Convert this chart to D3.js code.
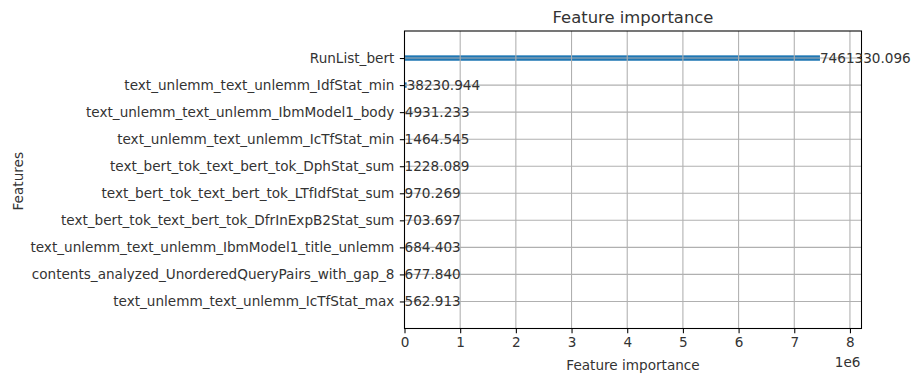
<!DOCTYPE html>
<html>
<head>
<meta charset="utf-8">
<script src="https://cdn.jsdelivr.net/npm/d3@7"></script>
<style>
  html, body { margin: 0; padding: 0; background: #fff; }
  svg { display: block; font-family: "DejaVu Sans", sans-serif; }
</style>
</head>
<body>
<svg id="chart" width="912" height="373"></svg>
<script>
// Feature names, top to bottom
const features = [
  "RunList_bert",
  "text_unlemm_text_unlemm_IdfStat_min",
  "text_unlemm_text_unlemm_IbmModel1_body",
  "text_unlemm_text_unlemm_IcTfStat_min",
  "text_bert_tok_text_bert_tok_DphStat_sum",
  "text_bert_tok_text_bert_tok_LTfIdfStat_sum",
  "text_bert_tok_text_bert_tok_DfrInExpB2Stat_sum",
  "text_unlemm_text_unlemm_IbmModel1_title_unlemm",
  "contents_analyzed_UnorderedQueryPairs_with_gap_8",
  "text_unlemm_text_unlemm_IcTfStat_max"
];
// Importance (gain) for each feature
const importance = [
  7461330.096, 38230.944, 4931.233, 1464.545, 1228.089,
  970.269, 703.697, 684.403, 677.840, 562.913
];
// x tick values (in units of 1e6)
const xTicks = [0, 1, 2, 3, 4, 5, 6, 7, 8];
const xScaleExp = 1e6;

const svg = d3.select("#chart");
const plot = { left: 404.5, right: 861.5, top: 31, bottom: 328.5 };
const fs = 13.6;
const textColor = "#333";
const gridColor = "#b0b0b0";

const n = features.length;
const maxVal = d3.max(importance);

const x = d3.scaleLinear().domain([0, maxVal * 1.1]).range([plot.left, plot.right]);
// position index: top row gets n-1
const y = d3.scaleLinear().domain([-1, n]).range([plot.bottom, plot.top]);
const rowPos = i => n - 1 - i;

// bars
const barH = Math.abs(y(0.2) - y(0));
svg.append("g").selectAll("rect")
  .data(importance)
  .join("rect")
  .attr("x", x(0))
  .attr("y", (d, i) => y(rowPos(i)) - barH / 2)
  .attr("width", d => x(d) - x(0))
  .attr("height", barH)
  .attr("fill", "#1f77b4");

// grid (drawn above bars)
const grid = svg.append("g").attr("stroke", gridColor).attr("stroke-width", 1.07);
grid.selectAll("line.gx").data(xTicks).join("line")
  .attr("x1", d => x(d * xScaleExp)).attr("x2", d => x(d * xScaleExp))
  .attr("y1", plot.top).attr("y2", plot.bottom);
grid.selectAll("line.gy").data(features).join("line")
  .attr("y1", (d, i) => y(rowPos(i))).attr("y2", (d, i) => y(rowPos(i)))
  .attr("x1", plot.left).attr("x2", plot.right);

// spines
svg.append("rect")
  .attr("x", plot.left).attr("y", plot.top)
  .attr("width", plot.right - plot.left).attr("height", plot.bottom - plot.top)
  .attr("fill", "none").attr("stroke", "#000").attr("stroke-width", 1.07);

// x axis
const xAxis = d3.axisBottom(x)
  .tickValues(xTicks.map(t => t * xScaleExp))
  .tickFormat(d => d3.format("d")(d / xScaleExp))
  .tickSize(4.67).tickPadding(4.2);
const gx = svg.append("g").attr("transform", `translate(0,${plot.bottom})`).call(xAxis);
gx.select(".domain").remove();
gx.selectAll(".tick line").attr("stroke", "#000").attr("stroke-width", 1.07);
gx.selectAll(".tick text").attr("font-size", fs).attr("fill", textColor)
  .attr("font-family", "DejaVu Sans");

// y axis
const yAxis = d3.axisLeft(y)
  .tickValues(d3.range(n))
  .tickFormat(d => features[n - 1 - d])
  .tickSize(4.67).tickPadding(5.5);
const gy = svg.append("g").attr("transform", `translate(${plot.left},0)`).call(yAxis);
gy.select(".domain").remove();
gy.selectAll(".tick line").attr("stroke", "#000").attr("stroke-width", 1.07);
gy.selectAll(".tick text").attr("font-size", fs).attr("fill", textColor)
  .attr("font-family", "DejaVu Sans");

// value labels
svg.append("g").selectAll("text")
  .data(importance)
  .join("text")
  .attr("x", d => x(d + 1))
  .attr("y", (d, i) => y(rowPos(i)))
  .attr("dominant-baseline", "central")
  .attr("font-size", fs).attr("fill", textColor)
  .text(d => d3.format(".3f")(d));

// title and axis labels
svg.append("text")
  .attr("x", (plot.left + plot.right) / 2).attr("y", 23)
  .attr("text-anchor", "middle").attr("font-size", 16.4).attr("fill", textColor)
  .text("Feature importance");
svg.append("text")
  .attr("x", (plot.left + plot.right) / 2).attr("y", 369.5)
  .attr("text-anchor", "middle").attr("font-size", fs).attr("fill", textColor)
  .text("Feature importance");
svg.append("text")
  .attr("x", plot.right - 1).attr("y", 366.5)
  .attr("text-anchor", "end").attr("font-size", fs).attr("fill", textColor)
  .text("1e6");
svg.append("text")
  .attr("transform", `translate(22.5,${(plot.top + plot.bottom) / 2 + 1.5}) rotate(-90)`)
  .attr("text-anchor", "middle").attr("font-size", fs).attr("fill", textColor)
  .text("Features");
</script>
</body>
</html>
